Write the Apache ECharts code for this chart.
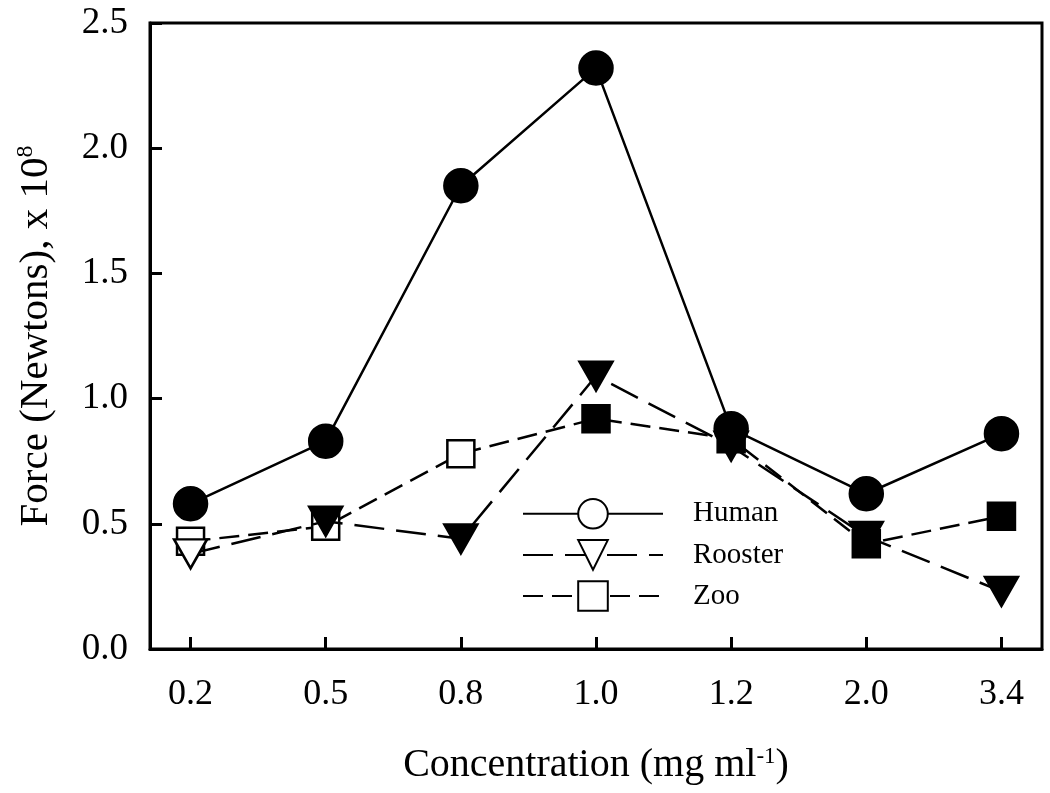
<!DOCTYPE html>
<html>
<head>
<meta charset="utf-8">
<script src="https://cdn.jsdelivr.net/npm/echarts@6/dist/echarts.min.js"></script>
<style>html,body{margin:0;padding:0;background:#fff}#c{width:1050px;height:793px}</style>
</head>
<body>
<div id="c"></div>
<script>
const categories = ['0.2', '0.5', '0.8', '1.0', '1.2', '2.0', '3.4'];
const human = [0.58, 0.83, 1.85, 2.32, 0.88, 0.62, 0.86];
const rooster = [0.38, 0.51, 0.44, 1.09, 0.81, 0.45, 0.23];
const zoo = [0.43, 0.49, 0.78, 0.92, 0.84, 0.42, 0.53];
// which points are drawn as filled markers (others open)
const humanFilled = [true, true, true, true, true, true, true];
const roosterFilled = [false, true, true, true, true, true, true];
const zooFilled = [false, false, false, true, true, true, true];

const font = '"Liberation Serif", "Times New Roman", serif';
const pos = categories.map((c, i) => i + 1);

function mk(vals, filled) {
  return vals.map((v, i) => ({
    value: [pos[i], v],
    itemStyle: filled[i] ? { color: '#000', borderColor: '#000' } : { color: '#fff', borderColor: '#000' }
  }));
}

const chart = echarts.init(document.getElementById('c'), null, { renderer: 'canvas' });
chart.setOption({
  animation: false,
  backgroundColor: '#fff',
  grid: { left: 150, top: 23, right: 8, bottom: 144, show: true, borderColor: '#000', borderWidth: 3, backgroundColor: 'transparent' },
  legend: {
    data: ['Human', 'Rooster', 'Zoo'],
    orient: 'vertical',
    left: 517, top: 493,
    itemWidth: 140, itemHeight: 37, itemGap: 9.5,
    textStyle: { fontFamily: font, fontSize: 29, color: '#000', padding: [0, 0, 0, 25] }
  },
  xAxis: {
    type: 'value', min: 0.7, max: 7.3,
    name: '{a|Concentration (mg ml}{s|-1}{a|)}',
    nameLocation: 'middle', nameGap: 96,
    nameTextStyle: { rich: { a: { fontFamily: font, fontSize: 40, color: '#000', verticalAlign: 'bottom' }, s: { fontFamily: font, fontSize: 23, color: '#000', verticalAlign: 'top', padding: [0, 0, 16, 0] } } },
    axisLine: { show: true, lineStyle: { color: '#000', width: 3 } },
    axisTick: { show: true, inside: true, length: 12, lineStyle: { color: '#000', width: 3 }, customValues: pos },
    axisLabel: { customValues: pos, margin: 28, fontFamily: font, fontSize: 36, color: '#000', formatter: v => categories[Math.round(v) - 1] },
    splitLine: { show: false }
  },
  yAxis: {
    type: 'value', min: 0, max: 2.5, interval: 0.5,
    name: '{a|Force (Newtons), x 10}{s|8}',
    nameLocation: 'middle', nameGap: 92, nameRotate: 90,
    nameTextStyle: { rich: { a: { fontFamily: font, fontSize: 41, color: '#000' }, s: { fontFamily: font, fontSize: 24, color: '#000', padding: [0, 0, 20, 0] } } },
    axisLine: { show: true, lineStyle: { color: '#000', width: 3 } },
    axisTick: { show: true, inside: true, length: 12, lineStyle: { color: '#000', width: 3 } },
    axisLabel: { margin: 22, fontFamily: font, fontSize: 37, color: '#000', formatter: v => v.toFixed(1) },
    splitLine: { show: false }
  },
  series: [
    {
      name: 'Zoo', type: 'line', data: mk(zoo, zooFilled),
      symbol: 'rect', symbolSize: 27, z: 2,
      lineStyle: { color: '#000', width: 2.5, type: [20, 9] },
      itemStyle: { color: '#fff', borderColor: '#000', borderWidth: 2.5 }
    },
    {
      name: 'Rooster', type: 'line', data: mk(rooster, roosterFilled),
      symbol: 'triangle', symbolRotate: 180, symbolSize: [33, 29], z: 3,
      lineStyle: { color: '#000', width: 2.5, type: [30, 12] },
      itemStyle: { color: '#fff', borderColor: '#000', borderWidth: 2.5 }
    },
    {
      name: 'Human', type: 'line', data: mk(human, humanFilled),
      symbol: 'circle', symbolSize: 33, z: 4,
      lineStyle: { color: '#000', width: 2.5, type: 'solid' },
      itemStyle: { color: '#fff', borderColor: '#000', borderWidth: 2.5 }
    }
  ]
});
</script>
</body>
</html>
